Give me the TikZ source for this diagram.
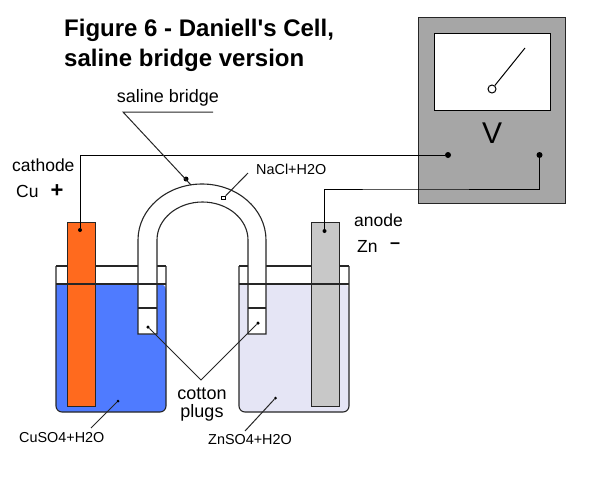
\documentclass[tikz,border=0pt]{standalone}
\usepackage{fontspec}
\setmainfont{Liberation Sans}
\newfontfamily\headfont{Liberation Sans}
\usetikzlibrary{positioning,calc}
\definecolor{CuBlue}{RGB}{79,123,255}
\definecolor{ZnLilac}{RGB}{229,229,245}
\definecolor{CuOrange}{RGB}{255,106,30}
\definecolor{ZnGray}{RGB}{200,200,200}
\definecolor{MeterGray}{RGB}{166,166,166}
\tikzset{
  wall/.style={draw=black!85,line width=1.1pt},
  wire/.style={draw=black,line width=1pt},
  thin lead/.style={draw=black!85,line width=1pt},
  pin/.style={circle,fill=black,inner sep=0pt,minimum size=#1},
  pin/.default=4pt,
  rod/.style={wall,minimum width=28pt,minimum height=183.5pt,anchor=north west,inner sep=0pt},
  lab/.style={font=\fontsize{17.5}{17.5}\selectfont,inner sep=0pt},
  tinylab/.style={font=\fontsize{14.4}{14.4}\selectfont,inner sep=0pt},
  headline/.style={font=\headfont\fontsize{24}{24}\bfseries\selectfont,inner sep=0pt,anchor=west},
  sign/.style={font=\fontsize{22}{22}\bfseries\selectfont,inner sep=0pt},
}
\begin{document}
\begin{tikzpicture}[x=1pt,y=-1pt]
\useasboundingbox (0,0) rectangle (594,480);
% title
\node[headline](title1) at (64,30){Figure 6 - Daniell's Cell,};
\node[headline](title2) at (64,60){saline bridge version};
% beakers
\fill[CuBlue,rounded corners=6pt] (56,284) -- (56,412) -- (166,412) -- (166,284) [sharp corners] -- cycle;
\fill[ZnLilac,rounded corners=6pt] (239,284) -- (239,412) -- (349,412) -- (349,284) [sharp corners] -- cycle;
\draw[wall,rounded corners=6pt] (56,266) -- (56,412) -- (166,412) -- (166,266);
\draw[wall] (56,266) -- (166,266);
\draw[wall,rounded corners=6pt] (239,266) -- (239,412) -- (349,412) -- (349,266);
\draw[wall] (239,266) -- (349,266);
% bridge
\draw[wall,fill=white] (138,334) -- (138,240) arc[start angle=180,end angle=360,x radius=64,y radius=56] -- (266,334) -- (248,334) -- (248,240) arc[start angle=360,end angle=180,x radius=45.5,y radius=38] -- (157,334) -- cycle;
\draw[wall] (138,308) -- (157,308) (248,308) -- (266,308);
% electrodes
\node[rod,fill=CuOrange](cu) at (67,222){};
\node[rod,fill=ZnGray](zn) at (310.5,222){};
\draw[wall] (56,284) -- (166,284) (239,284) -- (349,284);
% meter
\node[draw=black!85,line width=1.1pt,fill=MeterGray,minimum width=147pt,minimum height=186pt,inner sep=0pt,anchor=north west](meter) at (418,17){};
\node[draw=black,line width=1.1pt,fill=white,minimum width=116pt,minimum height=77pt,inner sep=0pt,anchor=north west](window) at (434,33){};
\node[circle,draw=black,line width=1pt,fill=white,inner sep=0pt,minimum size=8pt](pivot) at (492,89){};
\coordinate (tip) at (525,48);
\draw[wire] (pivot) -- (tip);
\node[font=\fontsize{30}{30}\selectfont,inner sep=0pt](volt) at (492,133){V};
\node[pin=6pt](plus) at (448,155){};
\node[pin=6pt](minus) at (539.5,155){};
% wires
\node[pin](cudot) at (80,230){};
\node[pin](zndot) at (324.5,231){};
\draw[wire] (cudot) |- (plus);
\draw[wire] (zndot) |- (400,189) -| (minus);
% labels
\node[lab,font=\fontsize{18}{18}\selectfont](bridgelab) at (168,98){saline bridge};
\coordinate (ul1) at (123,112);\coordinate (ul2) at (213,112);
\node[pin=5pt](bridgedot) at (186,179){};
\coordinate (bridgeend) at (191,185);
\draw[thin lead] (ul2) -- (ul1) -- (bridgeend);
\node[tinylab,anchor=west](nacl) at (256,169){NaCl+H2O};
\coordinate (naclend) at (248,173);
\node[draw=black,fill=white,line width=.8pt,inner sep=0pt,minimum size=3.5pt](nacldot) at (223.5,198){};
\draw[thin lead] (naclend) -- (nacldot);
\node[lab,anchor=west](cathode) at (12,165){cathode};
\node[lab,anchor=west](culab) at (16,191){Cu};
\node[sign](cuplus) at (57,191){+};
\node[lab,anchor=west](anode) at (354,220){anode};
\node[lab,anchor=west](znlab) at (357,246){Zn};
\node[sign,font=\fontsize{18}{18}\bfseries\selectfont](znminus) at (395,246){–};
% plugs
\node[lab,font=\fontsize{18}{18}\selectfont](cotton) at (202,394){cotton};
\node[lab,font=\fontsize{18}{18}\selectfont](plugs) at (202,413){plugs};
\coordinate (vee) at (201,380);
\node[pin=3.5pt](plugl) at (148,327){};
\node[pin=3.5pt](plugr) at (258,323){};
\draw[thin lead] (plugl) -- (vee) -- (plugr);
% solutions
\node[tinylab,anchor=west](cusol) at (19,438){CuSO4+H2O};
\node[tinylab,anchor=west](znsol) at (208,440){ZnSO4+H2O};
\node[pin=3pt](cusoldot) at (118,401){};
\node[pin=3pt](znsoldot) at (275.5,398){};
\coordinate (cuend) at (91,428);\coordinate (znend) at (245,431);
\draw[thin lead] (cusoldot) -- (cuend);
\draw[thin lead] (znsoldot) -- (znend);
\end{tikzpicture}
\end{document}
